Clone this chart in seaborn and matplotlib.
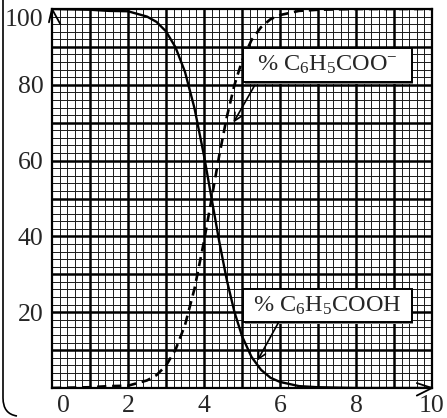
import numpy as np
import pandas as pd
import matplotlib
matplotlib.use("Agg")
import matplotlib.pyplot as plt
import matplotlib.transforms as mtransforms
from matplotlib.patches import Rectangle, PathPatch
from matplotlib.path import Path
import seaborn as sns

# ---- data ----
ph = [0, 1, 1.5, 2, 2.5, 2.75, 3.0, 3.25, 3.5, 3.75, 4.0, 4.2, 4.4, 4.6, 4.8,
      5.0, 5.25, 5.5, 5.75, 6.0, 6.5, 7.0, 8.0, 10.0]
acid_pct = [100, 99.8, 99.5, 99.4, 98.0, 96.6, 94.1, 89.9, 83.4, 73.8, 61.3,
            50.0, 38.7, 28.5, 20.1, 13.7, 8.2, 4.8, 2.7, 1.6, 0.5, 0.2, 0.0, 0.0]
base_pct = [0, 0.2, 0.5, 0.6, 2.0, 3.4, 5.9, 10.1, 16.6, 26.2, 38.7,
            50.0, 61.3, 71.5, 79.9, 86.3, 91.8, 95.2, 97.3, 98.4, 99.5, 99.8, 100, 100]
x_ticks = [0, 2, 4, 6, 8, 10]
x_tick_labels = ["0", "2", "4", "6", "8", "10"]
y_ticks = [0, 20, 40, 60, 80, 100]
y_tick_labels = ["", "20", "40", "60", "80", "100"]
label_base = "% C$_6$H$_5$COO$^{-}$"
label_acid = "% C$_6$H$_5$COOH"

df = pd.DataFrame({"pH": ph, "acid": acid_pct, "base": base_pct})

sns.set_style("white")
plt.rcParams["font.family"] = ["Liberation Serif", "DejaVu Serif"]
plt.rcParams["mathtext.fontset"] = "custom"
plt.rcParams["mathtext.rm"] = "Liberation Serif"
plt.rcParams["mathtext.it"] = "Liberation Serif:italic"

fig = plt.figure(figsize=(4.47, 4.18), dpi=100)
ax = fig.add_axes([52 / 447, 1 - 388 / 418, 380 / 447, 379 / 418])

ax.set_xlim(0, 10)
ax.set_ylim(0, 100)

# graph-paper grid
ax.set_xticks(np.arange(0, 10.001, 0.2), minor=True)
ax.set_yticks(np.arange(0, 100.001, 2), minor=True)
ax.grid(which="minor", color="#1a1a1a", lw=0.7)
ax.vlines(np.arange(1, 10, 1), 0, 100, color="black", lw=1.8, zorder=1)
ax.hlines(np.arange(10, 100, 10), 0, 10, color="black", lw=1.8, zorder=1)
ax.tick_params(which="minor", length=0)
ax.set_axisbelow(True)

sns.lineplot(data=df, x="pH", y="acid", ax=ax, color="black", lw=1.7, zorder=3)
sns.lineplot(data=df, x="pH", y="base", ax=ax, color="black", lw=1.9, zorder=3)
ax.lines[-1].set_dashes((3.5, 2.2))

for s in ax.spines.values():
    s.set_color("black")
    s.set_linewidth(1.6)

ax.set_xticks(x_ticks)
ax.set_xticklabels(x_tick_labels)
ax.set_yticks(y_ticks)
ax.set_yticklabels(y_tick_labels)
ax.tick_params(which="major", direction="out", length=5, width=1.0, color="black",
               labelsize=18.5, pad=1)
ax.tick_params(axis="x", pad=0)
ax.set_xlabel("")
ax.set_ylabel("")
# shift the "0" label slightly right as in the reference
lab0 = ax.get_xticklabels()[0]
lab0.set_transform(lab0.get_transform() + mtransforms.ScaledTranslation(11 / 100, 0, fig.dpi_scale_trans))
lab100 = ax.get_yticklabels()[-1]
lab100.set_transform(lab100.get_transform() + mtransforms.ScaledTranslation(0, -9 / 100, fig.dpi_scale_trans))

# axis arrows
ax.plot([-0.08, 0, 0.22], [96.5, 100, 96.0], color="black", lw=1.3, clip_on=False, zorder=5)
ax.plot([9.6, 10, 9.6], [1.3, 0, -2.0], color="black", lw=1.3, clip_on=False, zorder=5)

# label boxes
for (x0, y0, w, h, txt) in [(5.03, 80.7, 4.44, 9.0, label_base),
                            (5.03, 17.4, 4.44, 8.7, label_acid)]:
    ax.add_patch(Rectangle((x0 + 0.04, y0 - 0.5), w, h, facecolor="#888888",
                           edgecolor="none", zorder=6))
    ax.add_patch(Rectangle((x0, y0), w, h, facecolor="white", edgecolor="black",
                           lw=1.4, zorder=7))
    ax.text(x0 + w / 2, y0 + h / 2, txt, ha="center", va="center",
            fontsize=17.5, zorder=8)

ax.annotate("", xy=(4.74, 69.4), xytext=(5.37, 80.5),
            arrowprops=dict(arrowstyle="->", color="black", lw=1.2,
                            mutation_scale=14), zorder=9)
ax.annotate("", xy=(5.37, 6.6), xytext=(6.0, 18.0),
            arrowprops=dict(arrowstyle="->", color="black", lw=1.2,
                            mutation_scale=14), zorder=9)

# rounded bracket frame on the left
verts = [(3, 418 - 0), (3, 418 - 398), (3, 418 - 414), (17, 418 - 416)]
verts = [(x / 447, y / 418) for x, y in verts]
path = Path(verts, [Path.MOVETO, Path.LINETO, Path.CURVE3, Path.CURVE3])
fig.patches.append(PathPatch(path, transform=fig.transFigure, fill=False,
                             edgecolor="black", lw=1.2))

fig.savefig("out.png", dpi=100)
